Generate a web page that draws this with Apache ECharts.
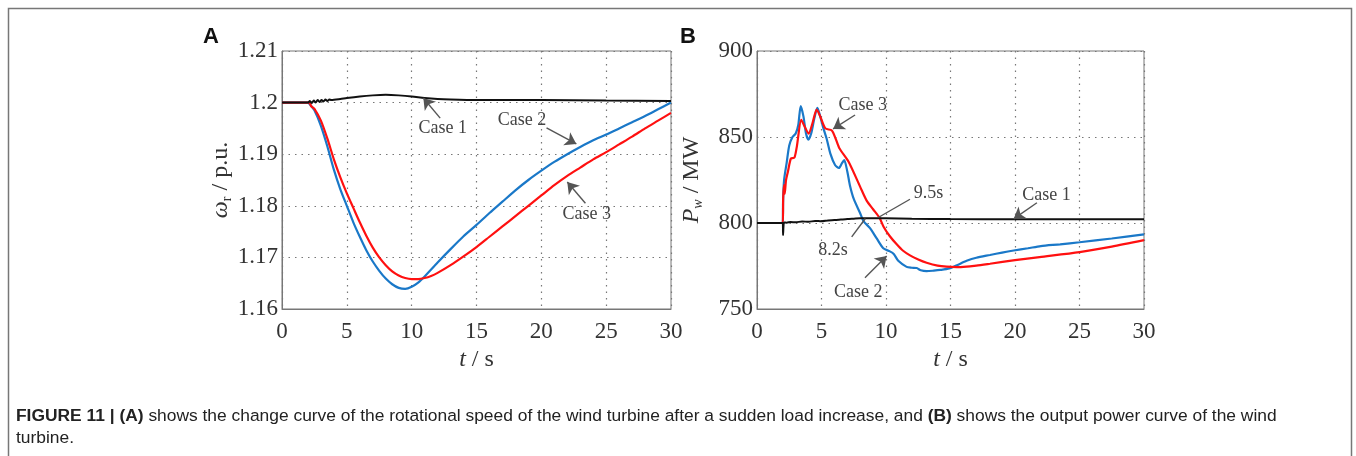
<!DOCTYPE html>
<html>
<head>
<meta charset="utf-8">
<script src="https://cdn.jsdelivr.net/npm/echarts@6/dist/echarts.min.js"></script>
<style>
  html, body { margin: 0; padding: 0; background: #fff; }
  #chart { width: 1356px; height: 456px; }
</style>
</head>
<body>
<div id="chart"></div>
<script>
// Panel A: rotor speed (p.u.) vs time (s)
const timeA1 = [0, 2.0, 2.15, 2.3, 2.45, 2.6, 2.75, 2.9, 3.05, 3.2, 3.35, 3.5, 3.65, 3.8, 4.5, 5, 6, 7, 8, 9, 10, 11, 12, 13, 15, 20, 25, 30];
const speedA1 = [1.2, 1.2, 1.2003, 1.1999, 1.2004, 1.2, 1.2005, 1.2001, 1.2005, 1.2002, 1.2006, 1.2003, 1.2006, 1.2005, 1.2007, 1.2009, 1.2012, 1.2014, 1.2015, 1.2014, 1.2012, 1.2009, 1.2007, 1.2006, 1.2005, 1.2005, 1.2004, 1.2003];

const timeA2 = [0, 2, 2.2, 2.5, 3, 3.5, 4, 4.5, 5, 5.5, 6, 6.5, 7, 7.5, 8, 8.5, 9, 9.5, 10, 10.5, 11, 12, 13, 14, 15, 16, 17, 18, 19, 20, 21, 22, 23, 24, 25, 26, 27, 28, 29, 30];
const speedA2 = [1.2, 1.2, 1.1995, 1.1985, 1.1955, 1.1915, 1.187, 1.1832, 1.18, 1.1768, 1.174, 1.1714, 1.1692, 1.1674, 1.1659, 1.1648, 1.1641, 1.1639, 1.1643, 1.1651, 1.1663, 1.169, 1.1716, 1.1741, 1.1763, 1.1786, 1.1808, 1.183, 1.185, 1.1868, 1.1885, 1.19, 1.1914, 1.1927, 1.1938, 1.1950, 1.1962, 1.1974, 1.1987, 1.2];

const timeA3 = [0, 2.1, 2.25, 2.5, 3, 3.5, 4, 4.5, 5, 5.5, 6, 6.5, 7, 7.5, 8, 8.5, 9, 9.5, 10, 10.5, 11, 11.5, 12, 13, 14, 15, 16, 17, 18, 19, 20, 21, 22, 23, 24, 25, 26, 27, 28, 29, 30];
const speedA3 = [1.2, 1.2, 1.1993, 1.1988, 1.1965, 1.193, 1.189, 1.1855, 1.1824, 1.1796, 1.1768, 1.1742, 1.1719, 1.17, 1.1685, 1.1673, 1.1665, 1.166, 1.1658, 1.1658, 1.166, 1.1664, 1.167, 1.1685, 1.1702, 1.172, 1.174, 1.176, 1.178, 1.18, 1.182, 1.184, 1.1858, 1.1874, 1.189, 1.1904, 1.1919, 1.1934, 1.195, 1.1965, 1.198];

// Panel B: wind power output (MW) vs time (s)
const timeB1 = [0, 2.0, 2.02, 2.06, 2.1, 2.3, 2.6, 3.0, 3.5, 4.0, 4.5, 5.0, 5.5, 6.0, 6.5, 7.0, 7.5, 8.0, 9, 10, 12, 15, 20, 25, 30];
const powerB1 = [800, 800, 793, 799, 800.3, 800.2, 800.6, 800.4, 800.9, 800.7, 801.2, 801.0, 801.5, 801.7, 802.0, 802.3, 802.5, 802.7, 802.8, 802.7, 802.5, 802.3, 802.2, 802.2, 802.2];

const timeB2 = [0, 2.0, 2.02, 2.1, 2.3, 2.5, 2.75, 3.0, 3.2, 3.39, 3.6, 3.8, 3.98, 4.2, 4.45, 4.68, 4.9, 5.15, 5.4, 5.7, 6.05, 6.35, 6.6, 6.76, 7.0, 7.2, 7.5, 7.98, 8.27, 8.76, 9.28, 9.79, 10.3, 10.6, 10.95, 11.6, 12.0, 12.38, 12.7, 13.15, 13.7, 14.2, 14.9, 15.5, 16.25, 17.0, 18.06, 19.0, 19.9, 21.0, 22.0, 23.5, 25.0, 27.5, 30];
const powerB2 = [800, 800, 812, 825, 835, 845, 850, 852, 857, 868, 862, 852, 848.5, 852, 861, 867, 862, 855, 849, 840, 833.7, 832, 835, 836.5, 830, 822, 814, 806, 801, 797, 791, 785.3, 783.5, 782, 778, 774.5, 774, 773.8, 772.5, 772, 772.3, 772.7, 773.6, 775.5, 778, 779.8, 781.4, 782.8, 784, 785.3, 786.6, 787.6, 788.8, 791, 793.4];

const timeB3 = [0, 2.0, 2.03, 2.1, 2.15, 2.25, 2.4, 2.63, 2.9, 3.1, 3.43, 3.7, 4.0, 4.3, 4.63, 4.9, 5.3, 5.8, 6.1, 6.4, 7.1, 8.0, 8.5, 9.0, 9.5, 9.8, 10.3, 10.83, 11.3, 11.86, 12.5, 13.15, 14.0, 14.7, 15.5, 16.0, 17.0, 18.06, 20, 21.9, 25, 27.5, 30];
const powerB3 = [800, 800, 815, 822, 817, 825, 830, 837.5, 838, 845, 860, 856, 852, 858, 866, 862, 855, 853.8, 849, 843.3, 835.6, 821, 813, 808, 803, 798, 792.3, 787.6, 784, 781.2, 778.8, 776.9, 775.2, 774.6, 774.4, 774.5, 775.2, 776.3, 778.4, 780.2, 783.1, 786.3, 790];

// Annotations in data coordinates: [text, t, value]
const labelsA = [['Case 1', 12.4, 1.1951], ['Case 2', 18.5, 1.1966], ['Case 3', 23.5, 1.1784]];
const arrowsA = [[12.2, 1.197, 10.9, 1.2009], [20.4, 1.1951, 22.7, 1.1920], [23.4, 1.1805, 22.0, 1.1846]];
const labelsB = [['Case 3', 8.2, 868.6], ['9.5s', 13.3, 817.4], ['8.2s', 5.9, 784], ['Case 1', 22.45, 816], ['Case 2', 7.85, 759.5]];
const arrowsB = [[7.6, 862.8, 5.9, 854.7], [21.7, 811.8, 19.9, 802.4], [8.37, 768.2, 10.05, 780.8]];
const leadersB = [[11.86, 813.8, 9.4, 803.2], [7.34, 791.9, 8.4, 802.6]];

const SERIF = '"Liberation Serif", "Times New Roman", serif';
const SANS = '"Liberation Sans", Arial, sans-serif';
const pairs = (ts, vs) => ts.map((t, i) => [t, vs[i]]);

const arrowLines = (list, withHead) => list.map(a => [
  { coord: [a[0], a[1]], symbol: 'none' },
  { coord: [a[2], a[3]], symbol: withHead ? 'arrow' : 'none' }
]);

const textPoints = list => list.map(l => ({
  coord: [l[1], l[2]],
  value: l[0],
  label: { formatter: l[0] }
}));

const annotationMarks = (labels, arrows, leaders) => ({
  markLine: {
    silent: true,
    animation: false,
    symbolSize: 11,
    label: { show: false },
    lineStyle: { color: '#555', width: 1.4, type: 'solid' },
    emphasis: { disabled: true },
    data: arrowLines(arrows, true).concat(arrowLines(leaders || [], false))
  },
  markPoint: {
    silent: true,
    animation: false,
    symbol: 'circle',
    symbolSize: 1,
    itemStyle: { color: 'rgba(0,0,0,0)' },
    label: {
      show: true, position: 'inside', color: '#444',
      fontFamily: SERIF, fontSize: 18
    },
    data: textPoints(labels)
  }
});

const xAxisBase = gridIndex => ({
  type: 'value', gridIndex, min: 0, max: 30, interval: 5,
  name: '{i|t} / s',
  nameLocation: 'middle',
  nameGap: 38,
  nameTextStyle: {
    fontFamily: SERIF, fontSize: 24, color: '#333',
    rich: { i: { fontFamily: SERIF, fontStyle: 'italic', fontSize: 24, color: '#333' } }
  },
  axisLine: { show: true, lineStyle: { color: '#777', width: 1 } },
  axisTick: { show: false },
  axisLabel: { fontFamily: SERIF, fontSize: 23, color: '#333', margin: 11 },
  splitLine: { show: true, lineStyle: { color: '#777', type: [1.5, 5], width: 1.2 } }
});

const lineSeries = (name, gi, ts, vs, color, width, z) => ({
  name, type: 'line', xAxisIndex: gi, yAxisIndex: gi,
  data: pairs(ts, vs), showSymbol: false, smooth: 0.25,
  lineStyle: { color, width }, z
});

const chart = echarts.init(document.getElementById('chart'));

chart.setOption({
  animation: false,
  backgroundColor: '#fff',
  grid: [
    { left: 282, top: 51, width: 389, height: 258, show: true, borderColor: '#777', borderWidth: 1, backgroundColor: 'transparent' },
    { left: 757, top: 51, width: 387, height: 258, show: true, borderColor: '#777', borderWidth: 1, backgroundColor: 'transparent' }
  ],
  xAxis: [xAxisBase(0), xAxisBase(1)],
  yAxis: [
    {
      type: 'value', gridIndex: 0, min: 1.16, max: 1.21, interval: 0.01,
      name: '{i|ω}{s|r} / p.u.',
      nameLocation: 'middle',
      nameGap: 48,
      nameTextStyle: {
        fontFamily: SERIF, fontSize: 24, color: '#333',
        rich: {
          i: { fontFamily: SERIF, fontStyle: 'italic', fontSize: 24, color: '#333' },
          s: { fontFamily: SERIF, fontSize: 14, color: '#333', padding: [12, 0, 0, 0] }
        }
      },
      axisLine: { show: true, lineStyle: { color: '#777', width: 1 } },
      axisTick: { show: false },
      axisLabel: {
        fontFamily: SERIF, fontSize: 23, color: '#333', margin: 4,
        formatter: v => String(parseFloat(v.toFixed(2)))
      },
      splitLine: { show: true, lineStyle: { color: '#777', type: [1.5, 5], width: 1.2 } }
    },
    {
      type: 'value', gridIndex: 1, min: 750, max: 900, interval: 50,
      name: '{i|P}{s|w} / MW',
      nameLocation: 'middle',
      nameGap: 52,
      nameTextStyle: {
        fontFamily: SERIF, fontSize: 24, color: '#333',
        rich: {
          i: { fontFamily: SERIF, fontStyle: 'italic', fontSize: 24, color: '#333' },
          s: { fontFamily: SERIF, fontStyle: 'italic', fontSize: 14, color: '#333', padding: [12, 0, 0, 0] }
        }
      },
      axisLine: { show: true, lineStyle: { color: '#777', width: 1 } },
      axisTick: { show: false },
      axisLabel: { fontFamily: SERIF, fontSize: 23, color: '#333', margin: 4 },
      splitLine: { show: true, lineStyle: { color: '#777', type: [1.5, 5], width: 1.2 } }
    }
  ],
  series: [
    lineSeries('A Case 2', 0, timeA2, speedA2, '#1a78c8', 2.2, 2),
    lineSeries('A Case 3', 0, timeA3, speedA3, '#ff1010', 2.2, 3),
    Object.assign(lineSeries('A Case 1', 0, timeA1, speedA1, '#111', 2, 4), annotationMarks(labelsA, arrowsA)),
    lineSeries('B Case 2', 1, timeB2, powerB2, '#1a78c8', 2.2, 2),
    lineSeries('B Case 3', 1, timeB3, powerB3, '#ff1010', 2.2, 3),
    Object.assign(lineSeries('B Case 1', 1, timeB1, powerB1, '#111', 2, 4), annotationMarks(labelsB, arrowsB, leadersB))
  ],
  graphic: [
    {
      type: 'rect', silent: true,
      shape: { x: 8.5, y: 8.5, width: 1343, height: 470 },
      style: { fill: 'none', stroke: '#777', lineWidth: 1.5 }
    },
    {
      type: 'text', left: 203, top: 26, silent: true,
      style: { text: 'A', font: 'bold 22px ' + SANS, fill: '#111' }
    },
    {
      type: 'text', left: 680, top: 26, silent: true,
      style: { text: 'B', font: 'bold 22px ' + SANS, fill: '#111' }
    },
    {
      type: 'text', left: 16, top: 405, silent: true,
      style: {
        text: '{b|FIGURE 11 | (A)} shows the change curve of the rotational speed of the wind turbine after a sudden load increase, and {b|(B)} shows the output power curve of the wind\nturbine.',
        fontFamily: SANS, fontSize: 17.4, fill: '#222', lineHeight: 22,
        rich: { b: { fontFamily: SANS, fontSize: 17.4, fontWeight: 'bold', fill: '#222', lineHeight: 22 } }
      }
    }
  ]
});
</script>
</body>
</html>
